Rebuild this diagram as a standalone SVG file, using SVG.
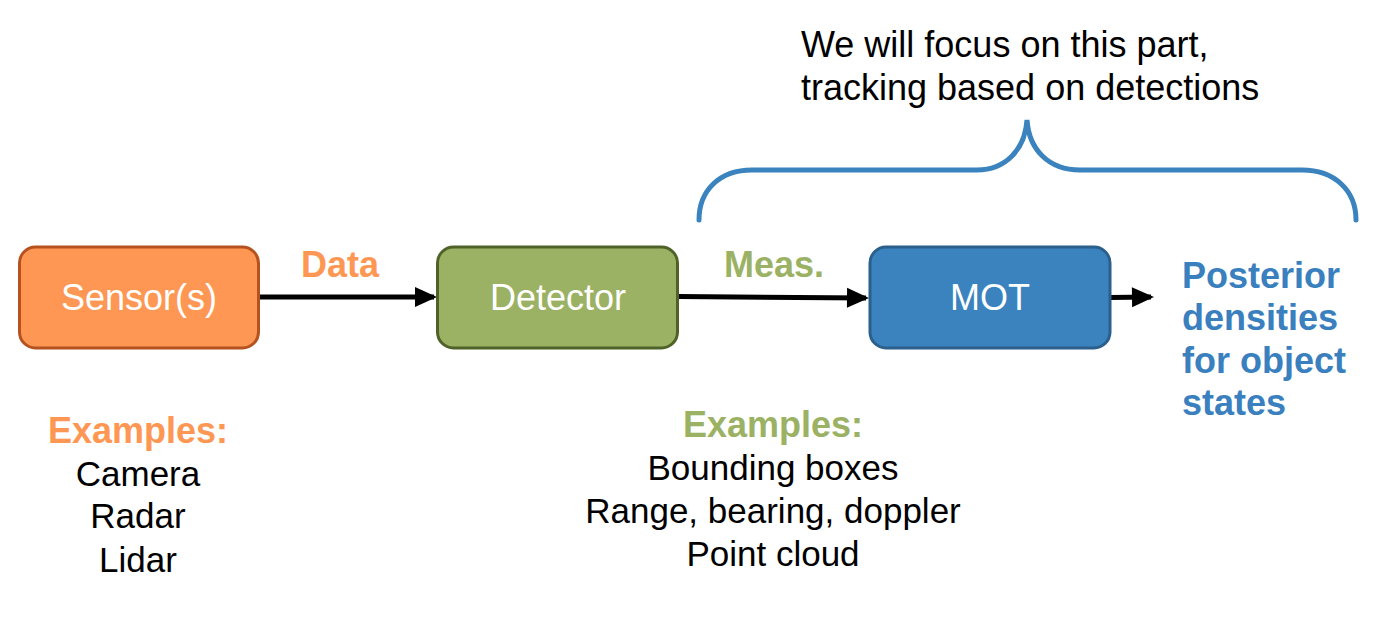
<svg xmlns="http://www.w3.org/2000/svg" width="1390" height="618" viewBox="0 0 1390 618">
<style>
text{font-family:"Liberation Sans",Arial,sans-serif;font-size:36px}
.box{stroke-width:3}
.lbl{fill:#fff;text-anchor:middle}
.b{font-weight:bold}
.c{text-anchor:middle;fill:#000;font-size:35px}
.conn{stroke:#000;stroke-width:5;fill:none}
</style>
<defs>
<marker id="arr" markerUnits="userSpaceOnUse" viewBox="0 0 20 20" markerWidth="20" markerHeight="20" refX="17" refY="10" orient="auto" overflow="visible">
<path d="M-2,0 L20,10 L-2,20 Z" fill="#000"/>
</marker>
</defs>
<rect width="1390" height="618" fill="#fff"/>
<g id="connectors">
<line class="conn" x1="259" y1="297" x2="434" y2="297" marker-end="url(#arr)"/>
<line class="conn" x1="678" y1="296.5" x2="866" y2="298" marker-end="url(#arr)"/>
<line class="conn" x1="1110" y1="297.5" x2="1151" y2="297" marker-end="url(#arr)"/>
</g>
<g id="sensor">
<rect class="box" x="19.5" y="247" width="239" height="101" rx="16" fill="#FE9753" stroke="#B5521F"/>
<text class="lbl" x="139" y="310">Sensor(s)</text>
</g>
<g id="detector">
<rect class="box" x="437.5" y="247" width="240" height="101" rx="16" fill="#9BB264" stroke="#4F6228"/>
<text class="lbl" x="558" y="310">Detector</text>
</g>
<g id="mot">
<rect class="box" x="870" y="247" width="240" height="101" rx="16" fill="#3A83BE" stroke="#2B5F8C"/>
<text class="lbl" x="990" y="310">MOT</text>
</g>
<g id="labels">
<text class="b" x="340" y="277" text-anchor="middle" fill="#FE9753">Data</text>
<text class="b" x="774" y="277" text-anchor="middle" fill="#9BB264">Meas.</text>
<text class="b" fill="#3A80BE"><tspan x="1182" y="288">Posterior</tspan><tspan x="1182" y="330">densities</tspan><tspan x="1182" y="373">for object</tspan><tspan x="1182" y="415">states</tspan></text>
<text class="b" x="138" y="443" text-anchor="middle" fill="#FE9753">Examples:</text>
<text class="c"><tspan x="138" y="486">Camera</tspan><tspan x="138" y="528">Radar</tspan><tspan x="138" y="572">Lidar</tspan></text>
<text class="b" x="773" y="437" text-anchor="middle" fill="#9BB264">Examples:</text>
<text class="c"><tspan x="773" y="480">Bounding boxes</tspan><tspan x="773" y="523">Range, bearing, doppler</tspan><tspan x="773" y="566">Point cloud</tspan></text>
<text fill="#000"><tspan x="801" y="57">We will focus on this part,</tspan><tspan x="801" y="100">tracking based on detections</tspan></text>
</g>
<g id="brace">
<path d="M699,220 C699,190 720,170 752,170 L977,170 C1005,170 1025,150 1027,120 C1029,150 1049,170 1080,170 L1302,170 C1334,170 1356,190 1356,220" fill="none" stroke="#3A83BE" stroke-width="5" stroke-linecap="round"/>
</g>
</svg>
